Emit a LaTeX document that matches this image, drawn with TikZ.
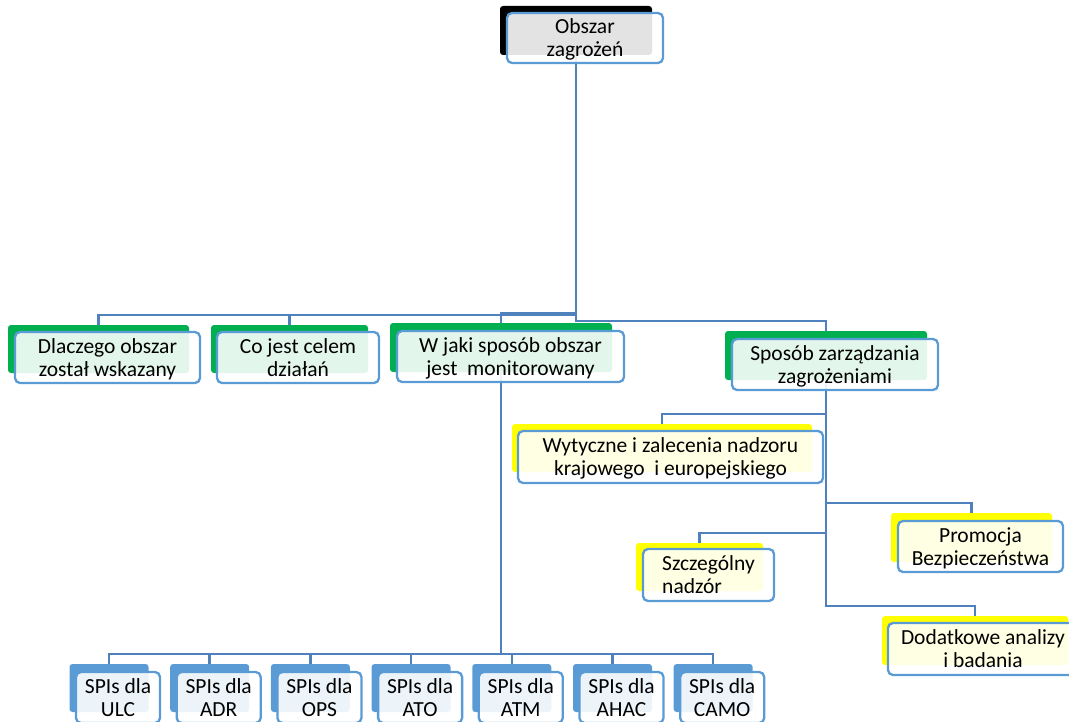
\documentclass[tikz,border=0pt]{standalone}
\usepackage{fontspec}
\setmainfont{Carlito}
\usetikzlibrary{calc,backgrounds}
\definecolor{connector}{HTML}{4F81BD}
\definecolor{outline}{HTML}{5B9BD5}
\definecolor{rootback}{HTML}{000000}
\definecolor{goalback}{HTML}{00B050}
\definecolor{actback}{HTML}{FFFF00}
\definecolor{spiback}{HTML}{5B9BD5}

\begin{document}
\begin{tikzpicture}[x=1pt, y=-1pt,
  font=\fontsize{21.5}{23}\selectfont,
  back/.style={rounded corners=3pt, inner sep=0pt},
  card/.style={draw=outline, line width=2.3pt, fill=white, fill opacity=.89,
    text opacity=1, rounded corners=5pt, align=center, inner xsep=2pt, inner ysep=0pt,
    text height=41.5pt, text depth=4.5pt},
  link/.style={draw=connector, line width=2.5pt}
]
  \useasboundingbox (0,0) rectangle (1069,722);
  \clip (0,0) rectangle (1069,722);

  % root of the hierarchy
  \node[back, fill=rootback, minimum width=152pt, minimum height=49pt] (obszar) at (576,30.5) {};
  \node[card, minimum width=156pt, minimum height=50pt] (obszarF) at (585,38) {Obszar\\zagrożeń};

  % first level (green)
  \node[back, fill=goalback, minimum width=181pt, minimum height=48pt] (dlaczego) at (98.5,349) {};
  \node[card, minimum width=185pt, minimum height=51pt] (dlaczegoF) at (107.5,357.5)
    {Dlaczego obszar\\został wskazany};
  \node[back, fill=goalback, minimum width=157pt, minimum height=48pt] (cojest) at (289.5,349) {};
  \node[card, minimum width=162pt, minimum height=51pt] (cojestF) at (298,357.5)
    {Co jest celem\\działań};
  \node[back, fill=goalback, minimum width=222pt, minimum height=49pt] (wjaki) at (501,347.5) {};
  \node[card, minimum width=227pt, minimum height=51pt] (wjakiF) at (510.5,356.5)
    {W jaki sposób obszar\\jest~ monitorowany};
  \node[back, fill=goalback, minimum width=202pt, minimum height=49pt] (sposob) at (826,355.5) {};
  \node[card, minimum width=206pt, minimum height=51pt] (sposobF) at (835,364.5)
    {Sposób zarządzania\\zagrożeniami};

  % actions (yellow)
  \node[back, fill=actback, minimum width=300pt, minimum height=48pt] (wytyczne) at (662,448) {};
  \node[card, minimum width=305pt, minimum height=52pt] (wytyczneF) at (670.5,457)
    {Wytyczne i zalecenia nadzoru\\krajowego~ i europejskiego};
  \node[back, fill=actback, minimum width=161pt, minimum height=49pt] (promocja) at (971.5,537.5) {};
  \node[card, minimum width=165pt, minimum height=51pt] (promocjaF) at (980.5,546.5)
    {Promocja\\Bezpieczeństwa};
  \node[back, fill=actback, minimum width=127pt, minimum height=48pt] (szczegolny) at (699.5,567) {};
  \node[card, align=left, minimum width=131pt, minimum height=52pt] (szczegolnyF) at (708.5,575)
    {Szczególny\\nadzór};
  \node[back, fill=actback, minimum width=186pt, minimum height=49pt] (dodatkowe) at (975,640.5) {};
  \node[card, minimum width=190pt, minimum height=52pt] (dodatkoweF) at (983,649)
    {Dodatkowe analizy\\i badania};

  % indicators (blue)
  \foreach \lbl [count=\i from 0] in {ULC,ADR,OPS,ATO,ATM,AHAC,CAMO} {
    \node[back, fill=spiback, minimum width=79pt, minimum height=48pt] (spi\i) at (109+100.7*\i,688) {};
    \node[card, minimum width=84pt, minimum height=51pt] (spi\i F) at (118+100.7*\i,697.5)
      {SPIs dla\\\lbl};
  }

  \begin{scope}[on background layer]
    \foreach \n in {dlaczego,cojest,wjaki,sposob}
      \draw[link] (obszar.south) |- ($(\n.north)+(0,-10)$) -- (\n.north);
    \foreach \n in {wytyczne,promocja,szczegolny,dodatkowe}
      \draw[link] (sposob.south) |- ($(\n.north)+(0,-10)$) -- (\n.north);
    \foreach \i in {0,...,6}
      \draw[link] (wjaki.south) |- ($(spi\i.north)+(0,-10)$) -- (spi\i.north);
  \end{scope}
\end{tikzpicture}
\end{document}
